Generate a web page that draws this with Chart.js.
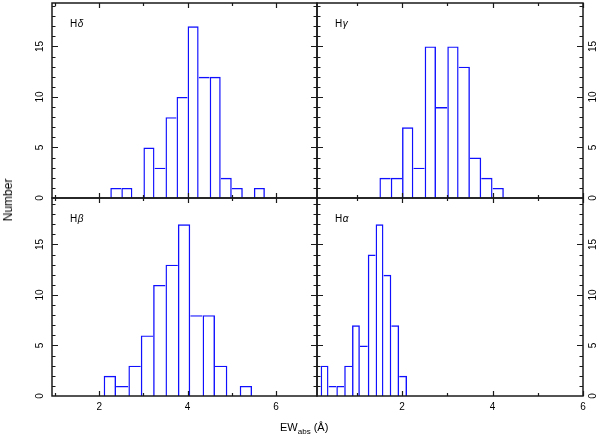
<!DOCTYPE html>
<html><head><meta charset="utf-8">
<script src="https://cdn.jsdelivr.net/npm/chart.js@4/dist/chart.umd.min.js"></script>
<style>
html,body{margin:0;padding:0;background:#fff;}
#wrap{position:relative;width:598px;height:440px;overflow:hidden;background:#fff;}
#wrap canvas{position:absolute;left:0;top:0;}
.lbl{position:absolute;font-family:"Liberation Sans",Arial,sans-serif;color:#000;white-space:nowrap;line-height:1;}
</style></head><body>
<div id="wrap">
<canvas id="pHd" width="598" height="440"></canvas>
<canvas id="pHg" width="598" height="440"></canvas>
<canvas id="pHb" width="598" height="440"></canvas>
<canvas id="pHa" width="598" height="440"></canvas>
<div class="lbl" id="ylab" style="left:8px;top:200px;font-size:12px;transform:translate(-50%,-50%) rotate(-90deg);">Number</div>
<div class="lbl" id="xlab" style="left:280px;top:422px;font-size:11px;">EW<span style="font-size:8px;position:relative;top:3px;">abs</span> (Å)</div>
</div>
<script>
// ---- data ----
const hdCenters = [2.375, 2.625, 2.875, 3.125, 3.375, 3.625, 3.875, 4.125, 4.375, 4.625, 4.875, 5.125, 5.375, 5.625];
const hdCounts  = [1, 1, 0, 5, 3, 8, 10, 17, 12, 12, 2, 1, 0, 1];
const hgCenters = [1.625, 1.875, 2.125, 2.375, 2.625, 2.875, 3.125, 3.375, 3.625, 3.875, 4.125];
const hgCounts  = [2, 2, 7, 3, 15, 9, 15, 13, 4, 2, 1];
const hbCenters = [2.24, 2.52, 2.80, 3.08, 3.36, 3.64, 3.92, 4.20, 4.48, 4.76, 5.04, 5.32];
const hbCounts  = [2, 1, 3, 6, 11, 13, 17, 8, 8, 3, 0, 1];
const haCenters = [0.287, 0.461, 0.634, 0.808, 0.981, 1.155, 1.329, 1.502, 1.676, 1.849, 2.023];
const haCounts  = [3, 1, 1, 3, 7, 5, 14, 17, 12, 7, 2];
const yTickLabels = [0, 5, 10, 15];
const xTickLabels = [2, 4, 6];
const panelNames = ['δ', 'γ', 'β', 'α'];

// ---- styling / layout ----
const FONT = '"Liberation Sans", Arial, sans-serif';
const BLUE = '#1010ff';
const FRAME = '#1a1a1a';
const BW = 1.4;

function edgeWidths(ctx) {
  const d = ctx.dataset.data;
  const i = ctx.dataIndex;
  const h = d[i].y;
  if (!h) return 0;
  const prev = i > 0 ? d[i - 1].y : 0;
  const next = i < d.length - 1 ? d[i + 1].y : 0;
  return { top: BW, bottom: 0, left: h >= prev ? BW : 0, right: h > next ? BW : 0 };
}

const deco = {
  id: 'deco',
  afterDatasetsDraw(chart, args, o) {
    const c = chart.ctx, a = chart.chartArea;
    const xs = chart.scales.x, ys = chart.scales.y;
    c.save();
    c.strokeStyle = FRAME; c.lineWidth = 1.5;
    c.strokeRect(a.left, a.top, a.right - a.left, a.bottom - a.top);
    c.lineWidth = 1.2;
    c.beginPath();
    for (let v = Math.ceil(xs.min); v <= Math.floor(xs.max); v++) {
      const px = Math.round(xs.getPixelForValue(v)) + 0.5;
      const len = v % 2 === 0 ? 5 : 3;
      c.moveTo(px, a.bottom); c.lineTo(px, a.bottom - len);
      c.moveTo(px, a.top); c.lineTo(px, a.top + len);
    }
    for (let v = 1; v <= Math.floor(ys.max); v++) {
      const py = Math.round(ys.getPixelForValue(v)) + 0.5;
      const len = v % 5 === 0 ? 6 : 3.5;
      c.moveTo(a.left, py); c.lineTo(a.left + len, py);
      c.moveTo(a.right, py); c.lineTo(a.right - len, py);
    }
    c.stroke();
    c.fillStyle = '#000';
    c.font = '10px ' + FONT;
    // rotated y tick labels
    c.textAlign = 'center'; c.textBaseline = 'middle';
    yTickLabels.forEach(v => {
      const py = ys.getPixelForValue(v);
      const lx = o.side === 'left' ? a.left - 12 : a.right + 10;
      c.save(); c.translate(lx, py); c.rotate(-Math.PI / 2);
      c.fillText(String(v), 0, 0); c.restore();
    });
    // x tick labels
    if (o.showX) {
      xTickLabels.forEach(v => {
        c.fillText(String(v), xs.getPixelForValue(v), a.bottom + 11);
      });
    }
    // panel name
    c.textAlign = 'left'; c.textBaseline = 'alphabetic';
    const tx = a.left + 18, ty = a.top + 24;
    c.fillText('H', tx, ty);
    const w = c.measureText('H').width;
    c.font = 'italic 10px ' + FONT;
    c.fillText(o.name, tx + w + 0.5, ty);
    c.restore();
  }
};

function makePanel(id, centers, counts, xr, ymax, area, name, side, showX) {
  const data = centers.map((cx, i) => ({ x: cx, y: counts[i] }));
  new Chart(document.getElementById(id), {
    type: 'bar',
    data: { datasets: [{ data, backgroundColor: 'rgba(0,0,0,0)', borderColor: BLUE,
      borderSkipped: false, borderWidth: edgeWidths, barPercentage: 1, categoryPercentage: 1,
      inflateAmount: 0 }] },
    options: {
      responsive: false, animation: false, events: [],
      layout: { padding: { left: area.l, top: area.t, right: 598 - area.r, bottom: 440 - area.b } },
      scales: {
        x: { type: 'linear', min: xr[0], max: xr[1], offset: false, display: false,
          grid: { offset: false } },
        y: { type: 'linear', min: 0, max: ymax, display: false }
      },
      plugins: { legend: { display: false }, tooltip: { enabled: false },
        deco: { name, side, showX } }
    },
    plugins: [deco]
  });
}

makePanel('pHd', hdCenters, hdCounts, [0.93, 6.93], 19.3, { l: 52, t: 3, r: 317, b: 198 }, panelNames[0], 'left', false);
makePanel('pHg', hgCenters, hgCounts, [0.12, 6.0], 19.3, { l: 317, t: 3, r: 583, b: 198 }, panelNames[1], 'right', false);
makePanel('pHb', hbCenters, hbCounts, [0.93, 6.93], 19.6, { l: 52, t: 198, r: 317, b: 396 }, panelNames[2], 'left', true);
makePanel('pHa', haCenters, haCounts, [0.12, 6.0], 19.6, { l: 317, t: 198, r: 583, b: 396 }, panelNames[3], 'right', true);
</script>
</body></html>
